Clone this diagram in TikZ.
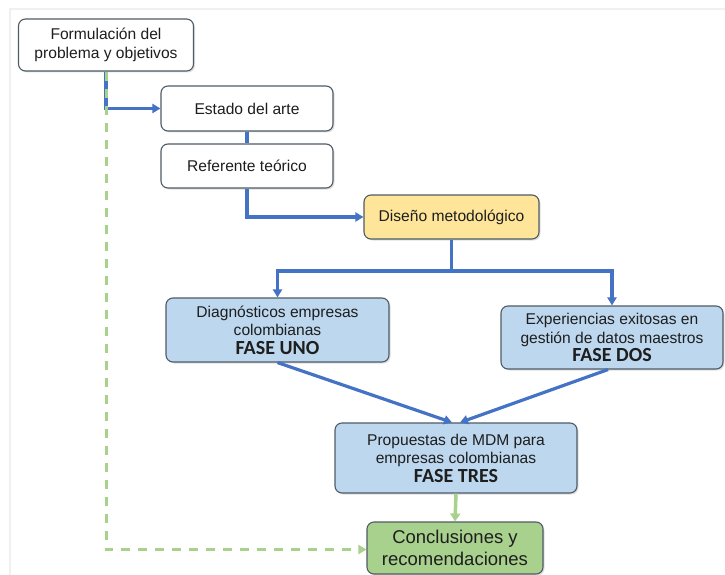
\documentclass[tikz,border=0pt]{standalone}
\usepackage{fontspec}
\setmainfont{Liberation Sans}
\newfontfamily\fasefont{Carlito}
\usetikzlibrary{arrows.meta,shadows,calc}
\definecolor{conblue}{HTML}{4472C4}
\definecolor{boxblue}{HTML}{BDD7EE}
\definecolor{boxyellow}{HTML}{FFE599}
\definecolor{boxgreen}{HTML}{A9D18E}
\definecolor{edgegray}{HTML}{4F5B66}
\definecolor{txt}{HTML}{1E1E1E}
\newcommand\fasetxt[1]{{\fasefont\bfseries\fontsize{20}{18.5}\selectfont #1}}
\tikzset{
  base/.style={draw=edgegray, line width=1.1pt, rounded corners=7pt, align=center,
    text=txt, inner sep=2pt, font=\fontsize{15.6}{18.5}\selectfont,
    drop shadow={shadow xshift=1.5pt, shadow yshift=-1.5pt, opacity=0.25, fill=gray}},
  whitebox/.style={base, fill=white},
  bluebox/.style={base, fill=boxblue},
  yellowbox/.style={base, fill=boxyellow},
  greenbox/.style={base, fill=boxgreen, font=\fontsize{18.5}{22}\selectfont},
  conn/.style={draw=conblue, line width=3.2pt},
  connarrow/.style={conn, -{Triangle[length=8pt,width=9pt]}},
  greenarrow/.style={draw=boxgreen, line width=3.5pt, -{Triangle[length=8pt,width=10pt]}},
  greendash/.style={draw=boxgreen, line width=3pt, dash pattern=on 9pt off 8pt, -{Triangle[length=8pt,width=9pt]}}
}
\begin{document}
\begin{tikzpicture}[x=1pt,y=-1pt]
\useasboundingbox (0,0) rectangle (725,575);
\draw[gray!12, line width=1.2pt] (10,575) -- (10,9) -- (725,9);

\node[whitebox, minimum width=175pt, minimum height=52pt] (form) at (106,45) {Formulación del\\problema y objetivos};
\node[whitebox, minimum width=172pt, minimum height=45pt] (estado) at (247,108.5) {Estado del arte};
\node[whitebox, minimum width=172pt, minimum height=44pt] (ref) at (247,166) {Referente teórico};
\node[yellowbox, minimum width=175pt, minimum height=44pt] (diseno) at (451.5,217) {Diseño metodológico};
\node[bluebox, minimum width=223pt, minimum height=64pt] (diag) at (277.5,330) {Diagnósticos empresas\\colombianas\\\fasetxt{FASE UNO}};
\node[bluebox, minimum width=222pt, minimum height=63pt] (exp) at (612,337.5) {Experiencias exitosas en\\gestión de datos maestros\\\fasetxt{FASE DOS}};
\node[bluebox, minimum width=242pt, minimum height=70pt] (prop) at (456,458) {Propuestas de MDM para\\empresas colombianas\\\fasetxt{FASE TRES}};
\node[greenbox, minimum width=176pt, minimum height=52pt] (concl) at (455,548) {Conclusiones y\\recomendaciones};

\coordinate (split) at (451.5,271);

\draw[connarrow] (form.south) |- (estado.west);
\draw[conn] (estado.south) -- (ref.north);
\draw[connarrow] (ref.south) |- (diseno.west);
\draw[conn] (diseno.south) -- (split);
\draw[connarrow] (split) -| (diag.north);
\draw[connarrow] (split) -| (exp.north);
\draw[connarrow] (diag.south) -- ([xshift=-4pt]prop.north);
\draw[connarrow] ([xshift=-4pt]exp.south) -- ([xshift=4pt]prop.north);
\draw[greenarrow] (prop.south) -- (concl.north);
\draw[greendash] (form.south) |- ([yshift=-1.5pt]concl.west);
\end{tikzpicture}
\end{document}
